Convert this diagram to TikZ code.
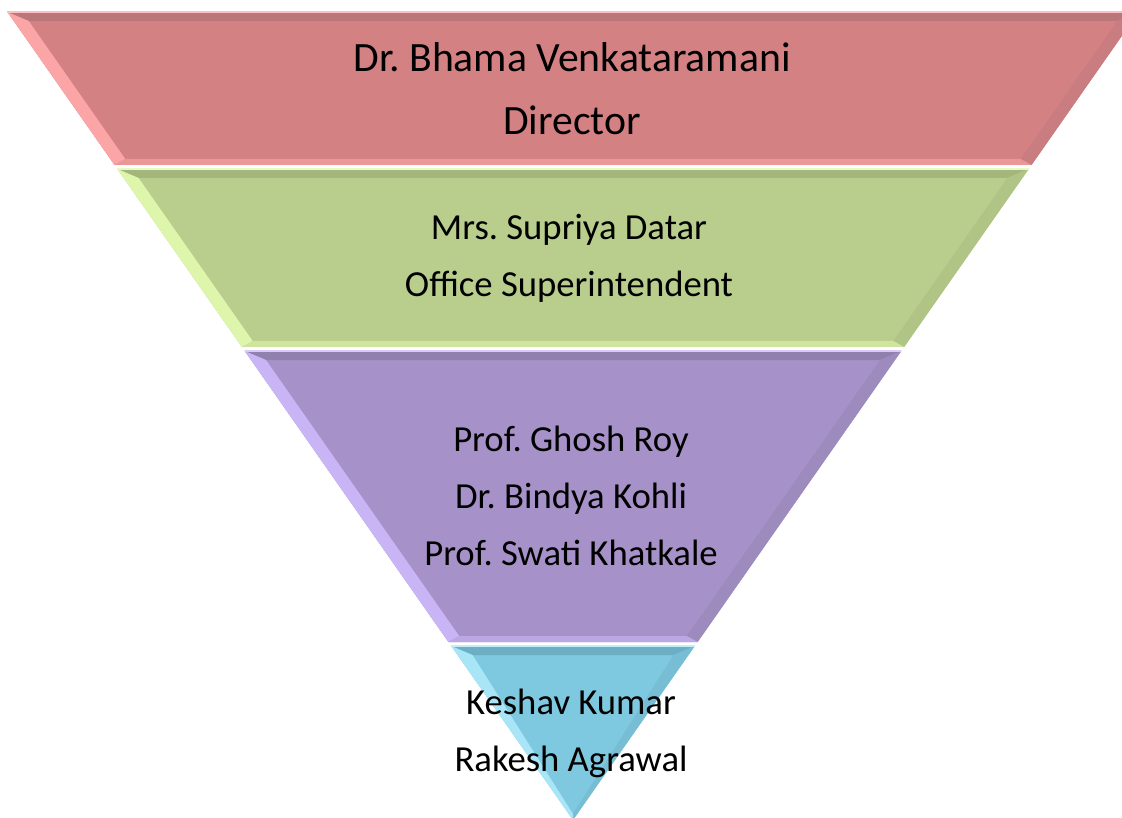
\documentclass[tikz,border=0pt]{standalone}
\usepackage{fontspec}
\setmainfont{Carlito}
\frenchspacing
\usetikzlibrary{positioning}

% band colours
\definecolor{redbase}{HTML}{D48184}
\definecolor{redlight}{HTML}{FBA5A6}
\definecolor{reddark}{HTML}{B47577}
\definecolor{greenbase}{HTML}{B9CD8C}
\definecolor{greenlight}{HTML}{DEF6AC}
\definecolor{greendark}{HTML}{9FB278}
\definecolor{purplebase}{HTML}{A692C8}
\definecolor{purplelight}{HTML}{C9B4F5}
\definecolor{purpledark}{HTML}{8C7DAA}
\definecolor{bluebase}{HTML}{7EC8E0}
\definecolor{bluelight}{HTML}{A8E6F7}
\definecolor{bluedark}{HTML}{69AABE}

% one bevelled slice of the funnel: top y, bottom y, base, light, dark
\newcommand{\funnelband}[5]{%
  \pgfmathsetmacro\wt{0.70*(820-#1)}
  \pgfmathsetmacro\wb{0.70*(820-#2)}
  \pgfmathsetmacro\ti{#1+9}
  \pgfmathsetmacro\bi{#2-6}
  \pgfmathsetmacro\wti{0.70*(820-\ti)-15}
  \pgfmathsetmacro\wbi{max(0.70*(820-\bi)-15,0)}
  \fill[#3] (573-\wt,#1) -- (573+\wt,#1) -- (573+\wb,#2) -- (573-\wb,#2) -- cycle;
  % top face
  \fill[#5!85!#3] (573-\wt,#1) -- (573+\wt,#1) -- (573+\wti,\ti) -- (573-\wti,\ti) -- cycle;
  % left face
  \fill[#4] (573-\wt,#1) -- (573-\wti,\ti) -- (573-\wbi,\bi) -- (573-\wb,#2) -- cycle;
  % right face
  \fill[#5!35!#3] (573+\wt,#1) -- (573+\wb,#2) -- (573+\wbi,\bi) -- (573+\wti,\ti) -- cycle;
  % bottom face
  \fill[#4!60!#3] (573-\wb,#2) -- (573-\wbi,\bi) -- (573+\wbi,\bi) -- (573+\wb,#2) -- cycle;
  % highlight on the top edge
  \draw[#4!70!white, line width=1.5pt] (573-\wt,#1) -- (573+\wt,#1);
}

\tikzset{
  headtext/.style={align=center, text=black, font=\fontsize{41.7}{63}\selectfont},
  bandtext/.style={align=center, text=black, font=\fontsize{36.7}{57}\selectfont},
}

\begin{document}
\begin{tikzpicture}[x=1pt, y=-1pt]
    \useasboundingbox (0,0) rectangle (1122,818);
    \clip (0,0) rectangle (1122,818);

    % the four slices
    \funnelband{12}{165}{redbase}{redlight}{reddark}
    \funnelband{169}{347}{greenbase}{greenlight}{greendark}
    \funnelband{351}{642}{purplebase}{purplelight}{purpledark}
    \funnelband{646}{820}{bluebase}{bluelight}{bluedark}

    % names
    \node[headtext] (director) at (572,89) {Dr. Bhama Venkataramani\\Director};
    \node[bandtext] (office) at (569,258) {Mrs. Supriya Datar\\Office Superintendent};
    \node[bandtext] (faculty) at (571,496) {Prof. Ghosh Roy\\Dr. Bindya Kohli\\Prof. Swati Khatkale};
    \node[bandtext] (staff) at (571,733) {Keshav Kumar\\Rakesh Agrawal};
\end{tikzpicture}
\end{document}
